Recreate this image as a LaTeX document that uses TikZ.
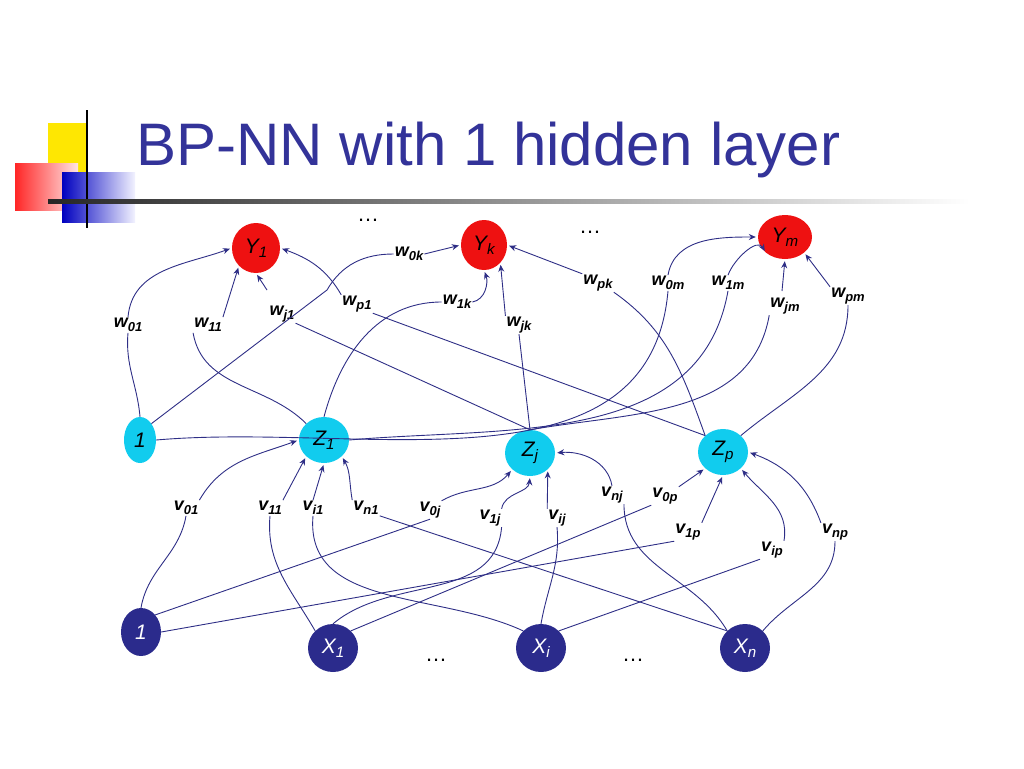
\documentclass[tikz,border=0pt]{standalone}
\usepackage{fontspec}
\setmainfont{Liberation Sans}
\usetikzlibrary{arrows.meta,shapes.geometric}
\definecolor{ln}{HTML}{2E2E86}
\definecolor{outc}{HTML}{EE1111}
\definecolor{hidc}{HTML}{11CCEE}
\definecolor{inc}{HTML}{2B2B8C}
\definecolor{ttl}{HTML}{333399}
\newcommand\sbx[2]{#1\raisebox{-0.4ex}{\scalebox{0.72}{#2}}}
\tikzset{
 neuron/.style={ellipse,minimum width=#1,inner sep=0pt},
 outn/.style={neuron=48pt,minimum height=48pt,fill=outc,font=\fontsize{21}{21}\itshape},
 hidn/.style={neuron=50pt,minimum height=46pt,fill=hidc,font=\fontsize{21}{21}\itshape},
 inn/.style={neuron=50pt,minimum height=48pt,fill=inc,text=white,font=\fontsize{21}{21}\itshape},
 lab/.style={inner sep=1pt,font=\fontsize{18}{18}\itshape\bfseries},
 wire/.style={draw=ln,line width=0.9pt},
 arr/.style={wire,-{Stealth[length=7pt,width=6pt]},shorten >=2pt},
 dots/.style={font=\fontsize{22}{22}\selectfont}
}
\begin{document}
\begin{tikzpicture}[x=1pt,y=-1pt]
\useasboundingbox (0,0) rectangle (1024,768);
% decoration
\fill[yellow!90!orange] (48,123) rectangle (86,185);
\shade[left color=red!85,right color=red!10] (15,163) rectangle (78,210);
\shade[left color=blue!75!black,right color=blue!5] (62,172) rectangle (135,222);
\draw[line width=1.5pt] (87,110) -- (87,228);
\shade[left color=black!85,right color=white] (48,199) rectangle (970,203);
\node[anchor=west,text=ttl,font=\fontsize{60}{60}\selectfont] (title) at (133,150) {BP-NN with 1 hidden layer};
% nodes
\node[outn,minimum width=48pt,minimum height=50pt] (Y1) at (256,248) {\sbx{Y}{1}};
\node[outn,minimum width=46pt,minimum height=50pt] (Yk) at (484,245) {\sbx{Y}{k}};
\node[outn,minimum width=54pt,minimum height=44pt] (Ym) at (785,237) {\sbx{Y}{m}};
\node[hidn,minimum width=32pt] (B1) at (140,440) {1};
\node[hidn] (Z1) at (324,440) {\sbx{Z}{1}};
\node[hidn] (Zj) at (530,453) {\sbx{Z}{j}};
\node[hidn] (Zp) at (723,452) {\sbx{Z}{p}};
\node[inn,minimum width=40pt] (B0) at (141,632) {1};
\node[inn] (X1) at (333,648) {\sbx{X}{1}};
\node[inn] (Xi) at (541,648) {\sbx{X}{i}};
\node[inn] (Xn) at (745,648) {\sbx{X}{n}};
\node[dots] (d1) at (368,220) {\dots};
\node[dots] (d2) at (590,232) {\dots};
\node[dots] (d3) at (436,660) {\dots};
\node[dots] (d4) at (633,660) {\dots};
% w labels
\node[lab] (w01) at (128,325) {\sbx{w}{01}};
\node[lab] (w11) at (208,325) {\sbx{w}{11}};
\node[lab] (wj1) at (282,314) {\sbx{w}{j1}};
\node[lab] (wp1) at (357,304) {\sbx{w}{p1}};
\node[lab] (w0k) at (409,254) {\sbx{w}{0k}};
\node[lab] (w1k) at (457,302) {\sbx{w}{1k}};
\node[lab] (wjk) at (519,325) {\sbx{w}{jk}};
\node[lab] (wpk) at (598,283) {\sbx{w}{pk}};
\node[lab] (w0m) at (668,283) {\sbx{w}{0m}};
\node[lab] (w1m) at (728,283) {\sbx{w}{1m}};
\node[lab] (wjm) at (785,306) {\sbx{w}{jm}};
\node[lab] (wpm) at (848,296) {\sbx{w}{pm}};
% v labels
\node[lab] (v01) at (186,508) {\sbx{v}{01}};
\node[lab] (v11) at (270,508) {\sbx{v}{11}};
\node[lab] (vi1) at (313,508) {\sbx{v}{i1}};
\node[lab] (vn1) at (366,508) {\sbx{v}{n1}};
\node[lab] (v0j) at (430,510) {\sbx{v}{0j}};
\node[lab] (v1j) at (490,518) {\sbx{v}{1j}};
\node[lab] (vij) at (557,518) {\sbx{v}{ij}};
\node[lab] (vnj) at (612,495) {\sbx{v}{nj}};
\node[lab] (v0p) at (665,496) {\sbx{v}{0p}};
\node[lab] (v1p) at (688,532) {\sbx{v}{1p}};
\node[lab] (vip) at (772,550) {\sbx{v}{ip}};
\node[lab] (vnp) at (835,532) {\sbx{v}{np}};
% hidden -> w labels
\draw[wire] (B1.north) to[out=95,in=-95] (w01.south);
\draw[arr] (w01.north) to[out=85,in=200] (Y1.west);
\draw[wire] (Z1.north west) to[out=135,in=-80] (w11.south west);
\draw[arr] (w11.north east) -- (Y1.south west);
\draw[wire] (Zj.north) -- (wj1.south east);
\draw[arr] (267,290) -- (Y1.south);
\draw[wire] (Zp.north west) -- (wp1.south east);
\draw[arr] (wp1.north west) to[out=120,in=-20] (Y1.east);
\draw[wire] (B1.north east) -- (327,290) to[out=60,in=180] (w0k.west);
\draw[arr] (w0k.east) -- (Yk.west);
\draw[wire] (Z1.north) to[out=75,in=180] (w1k.west);
\draw[arr] (w1k.east) to[out=10,in=-70] (Yk.south);
\draw[wire] (Zj.north) -- (wjk.south);
\draw[arr] (wjk.north west) -- (Yk.south east);
\draw[wire] (Zp.north west) to[out=110,in=-35] (wpk.south east);
\draw[arr] (wpk.north west) -- (Yk.east);
\draw[wire] (B1.east) to[out=5,in=-95] (w0m.south);
\draw[arr] (w0m.north) to[out=80,in=180] (Ym.west);
\draw[wire] (Z1.east) to[out=5,in=-100] (w1m.south);
\draw[arr] (w1m.north) to[out=70,in=120] (Ym.south west);
\draw[wire] (Zj.north) to[out=10,in=-100] (wjm.south west);
\draw[arr] (782,291) -- (Ym.south);
\draw[wire] (Zp.north east) to[out=40,in=-90] (wpm.south);
\draw[arr] (wpm.north west) -- (Ym.south east);
% input -> v labels
\draw[wire] (B0.north) to[out=80,in=-100] (v01.south);
\draw[arr] (v01.north east) to[out=60,in=200] (Z1.west);
\draw[wire] (X1.north west) to[out=120,in=-95] (v11.south);
\draw[arr] (v11.north east) -- (Z1.south west);
\draw[wire] (Xi.north west) to[out=155,in=-95] (vi1.south);
\draw[arr] (vi1.north) -- (Z1.south);
\draw[wire] (Xn.north west) -- (vn1.south east);
\draw[arr] (vn1.north west) to[out=100,in=-60] (Z1.south east);
\draw[wire] (B0.north east) -- (v0j.south);
\draw[arr] (v0j.north east) to[out=30,in=-130] (Zj.south west);
\draw[wire] (X1.north) to[out=40,in=-95] (v1j.south east);
\draw[arr] (v1j.north east) to[out=80,in=-95] (Zj.south);
\draw[wire] (Xi.north) to[out=80,in=-85] (vij.south);
\draw[arr] (vij.north west) -- (Zj.south east);
\draw[wire] (Xn.north west) to[out=120,in=-90] (vnj.south east);
\draw[arr] (vnj.north) to[out=100,in=5] (Zj.east);
\draw[wire] (X1.north east) -- (v0p.south west);
\draw[arr] (v0p.north east) -- (Zp.south west);
\draw[wire] (B0.east) -- (v1p.south west);
\draw[arr] (v1p.north east) -- (Zp.south);
\draw[wire] (Xi.north east) -- (vip.south west);
\draw[arr] (vip.north east) to[out=80,in=-50] (Zp.south east);
\draw[wire] (Xn.north east) to[out=50,in=-90] (vnp.south);
\draw[arr] (vnp.north west) to[out=110,in=-20] (Zp.east);
\end{tikzpicture}
\end{document}
